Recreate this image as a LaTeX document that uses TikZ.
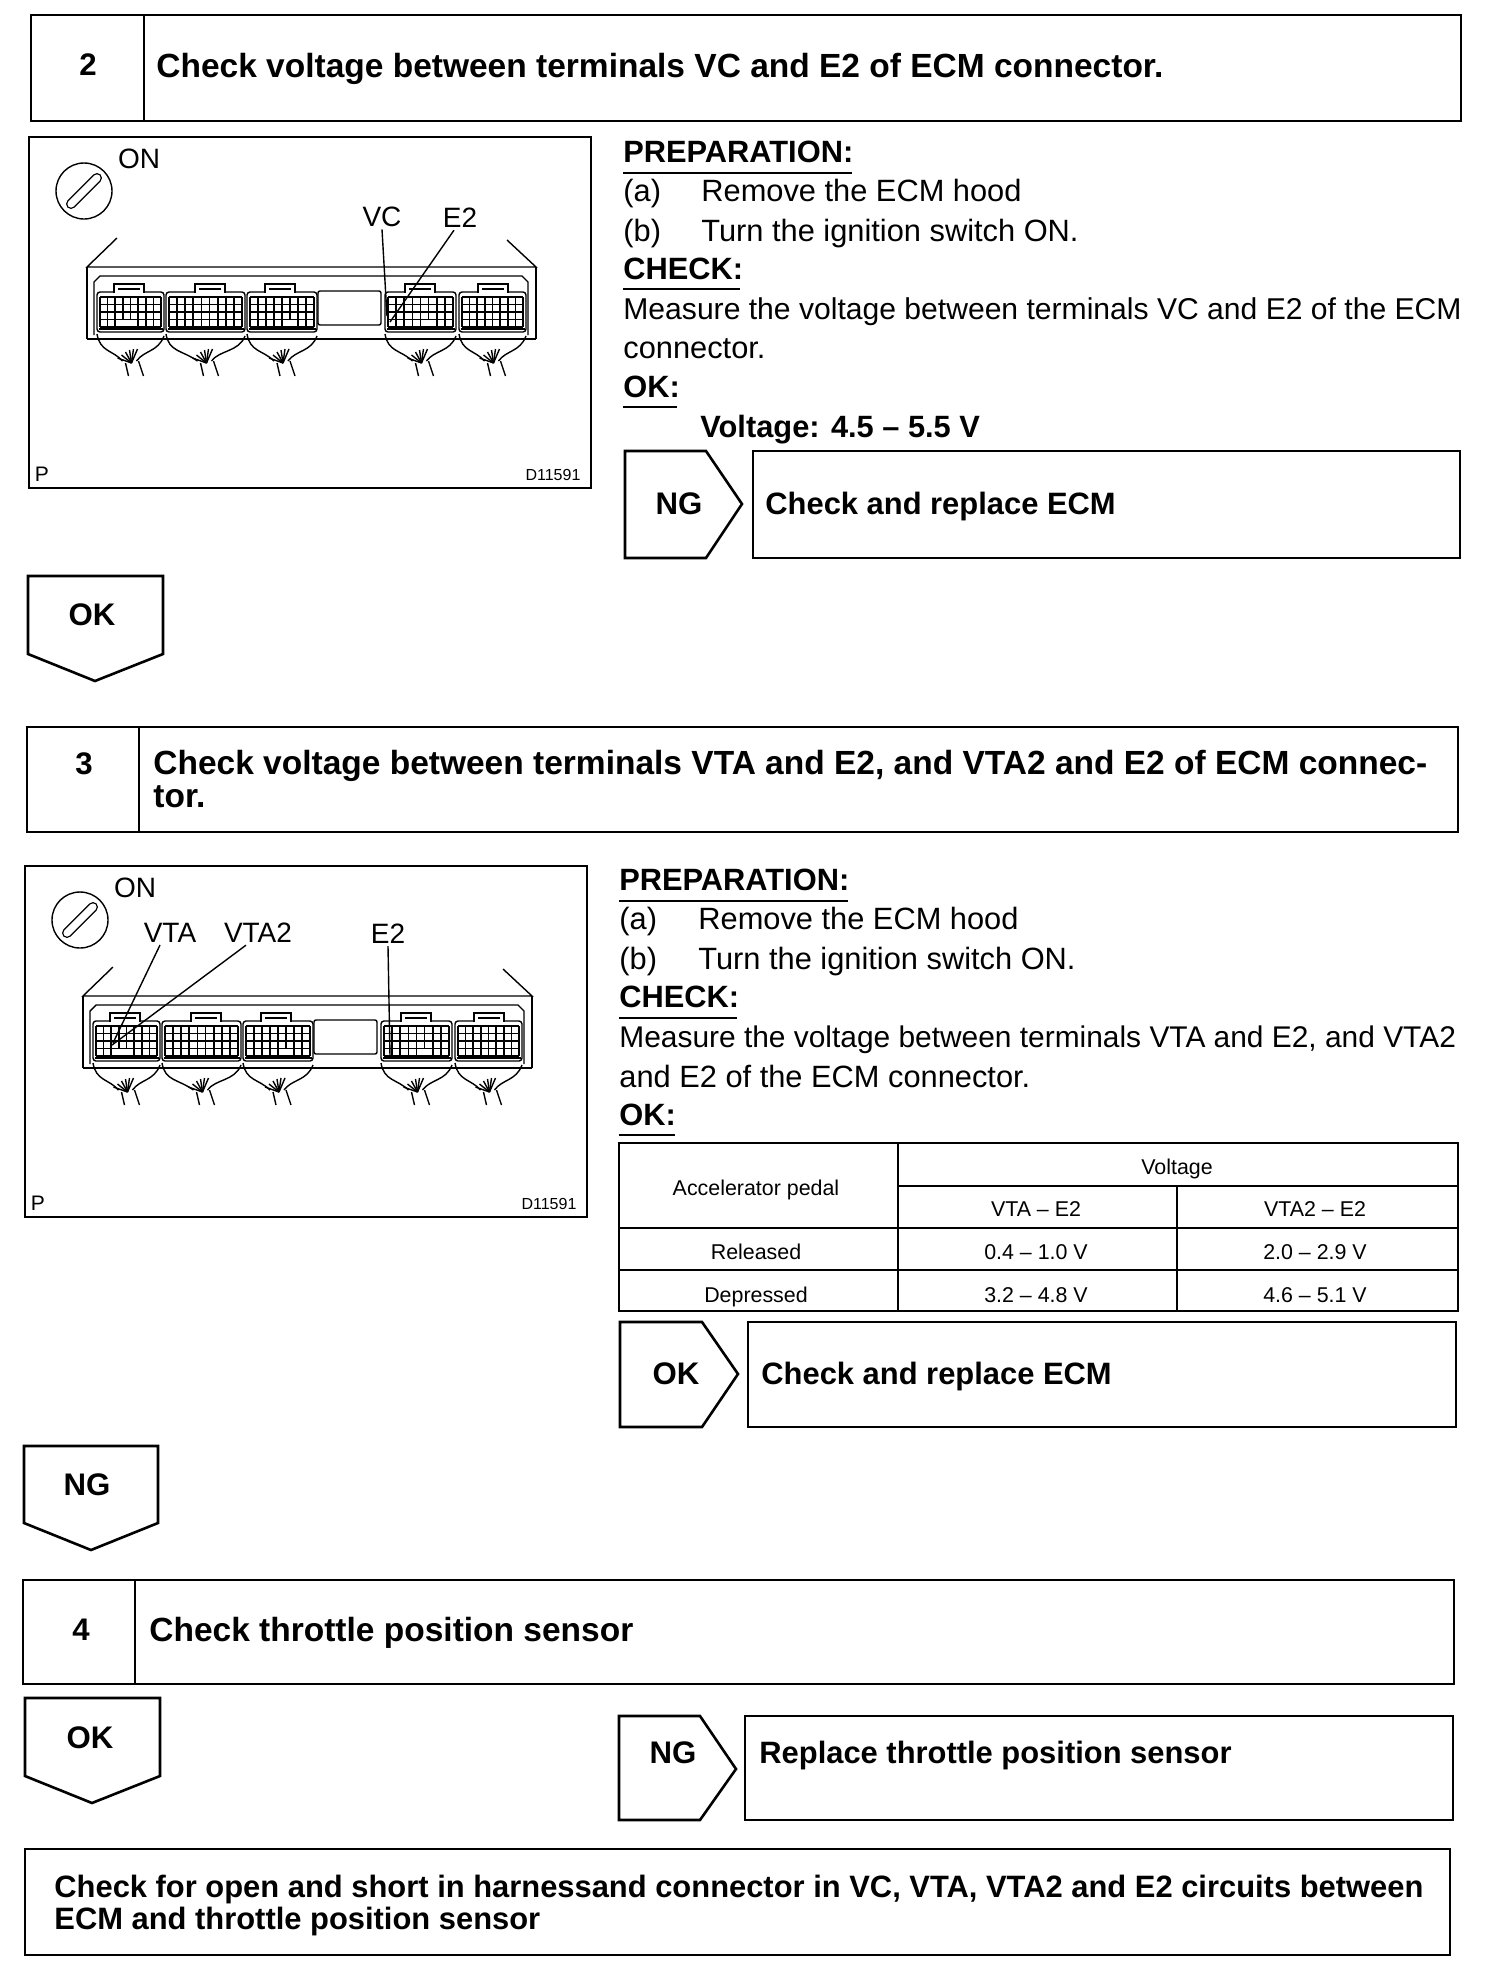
\documentclass[tikz,border=0pt]{standalone}
\usepackage{fontspec}
\setmainfont{Liberation Sans}
\def\pxsz{0.5pt}
\tikzset{
  boxline/.style={draw=black, line width=1.3pt, line join=miter},
  thinline/.style={draw=black, line width=0.7pt},
  gridline/.style={draw=black, line width=0.85pt},
  tableline/.style={draw=black, line width=1.1pt},
  headtext/.style={anchor=base west, inner sep=0pt, font=\fontsize{16.75}{18}\bfseries\selectfont},
  boxtext/.style={anchor=base west, inner sep=0pt, font=\fontsize{15.45}{17}\bfseries\selectfont},
  headnum/.style={anchor=base, inner sep=0pt, font=\fontsize{15.6}{17}\bfseries\selectfont},
  bodytext/.style={anchor=base west, inner sep=0pt, font=\fontsize{15.4}{17}\selectfont},
  bodytight/.style={anchor=base west, inner sep=0pt, font=\fontsize{15.05}{17}\selectfont},
  bodybold/.style={anchor=base west, inner sep=0pt, font=\fontsize{15.4}{17}\bfseries\selectfont},
  tabletext/.style={inner sep=0pt, font=\fontsize{10.7}{12}\selectfont},
  figlabel/.style={inner sep=1pt, font=\fontsize{14}{16}\selectfont},
  figsmall/.style={inner sep=0pt, font=\fontsize{8}{10}\selectfont},
}
% one plug of the ECM: left, right, left of tab, columns, blank cells
\newcommand{\ecmplug}[5]{
  \pgfmathsetmacro\cellw{(#2-#1-6)/#4}
  \pgfmathsetmacro\plugm{(#1+#2)/2}
  \draw[thinline, rounded corners=1.5pt] (#1,332) rectangle (#2,292);
  \draw[thinline, fill=white] (#3,293) -- (#3,284) -- ({#3+30},284) -- ({#3+30},293);
  \draw[gridline] ({#3+4},289) -- ({#3+26},289);
  \draw[gridline] ({#1+1.5},329) -- ({#2-1.5},329);
  \foreach \c in {0,...,#4} \draw[gridline] ({#1+3+\c*\cellw},297) -- ({#1+3+\c*\cellw},327);
  \foreach \r in {0,...,4} \draw[gridline] ({#1+3},{297+\r*7.5}) -- ({#2-3},{297+\r*7.5});
  \foreach \c/\r/\n in {#5} \fill[white] ({#1+3+\c*\cellw+0.9},{297+\r*7.5+0.9}) rectangle ({#1+3+(\c+\n)*\cellw-0.9},{297+(\r+1)*7.5-0.9});
  % wires
  \draw[thinline] (#1,334) .. controls ({#1+3},352) and ({#1+16},350) .. ({\plugm-8},361);
  \draw[thinline] (#2,336) .. controls ({#2-6},352) and ({\plugm+14},350) .. ({\plugm+6},361);
  \draw[thinline] ({\plugm-5},363) -- ({\plugm-2},376);
  \draw[thinline] ({\plugm+8},361) -- ({\plugm+13},376);
  \foreach \a/\b in {-13/358,-9/355,-5/352,-1/350,3/349,7/349}
    \draw[thinline] ({\plugm+1},363) -- ({\plugm+\a},\b);
}
% figure with key and ECM connectors
\newcommand{\ecmpanel}[3]{
\begin{scope}[shift={(#1,#2)}]
  \draw[boxline] (29,137) rectangle (591,488);
  \node[figlabel] (#3on) at (139,159) {ON};
  \node[figsmall, font=\fontsize{10.5}{11}\selectfont] (#3p) at (42,474) {P};
  \node[figsmall] (#3code) at (553,475) {D11591};
  % key
  \draw[thinline] (84,191) circle (28);
  \draw[black, line width=5pt, line cap=round] (71,204) -- (97,178);
  \draw[white, line width=3.6pt, line cap=round] (71,204) -- (97,178);
  % ECM body
  \draw[thinline] (117,238) -- (87,267) -- (536,267) -- (507,240);
  \draw[thinline] (87,267) -- (87,339);
  \draw[thinline] (536,267) -- (536,339);
  \draw[draw=black, line width=1.2pt] (87,339) -- (536,339);
  \draw[thinline] (94,335) -- (94,282) -- (100,276) -- (522,276) -- (528,282) -- (528,335);
  \draw[thinline, rounded corners=1pt] (318,291) rectangle (381,325);
  \ecmplug{97}{164}{114}{8}{2/3/3}
  \ecmplug{166}{245}{195}{9}{2/2/1,2/3/1,5/2/1,5/3/1}
  \ecmplug{247}{317}{265}{8}{2/3/1,4/3/2}
  \ecmplug{385}{456}{405}{8}{4/3/2}
  \ecmplug{459}{526}{478}{8}{2/2/1,2/3/1}
\end{scope}
}
\begin{document}
\begin{tikzpicture}
\begin{scope}[x=\pxsz, y=-\pxsz, line cap=butt]
  \useasboundingbox (0,0) rectangle (1504,1976);
  \fill[white] (0,0) rectangle (1504,1976);

  % Step 2
  \draw[boxline] (31,15) rectangle (1461,121);
  \draw[boxline] (144,15) -- (144,121);
  \node[headnum] (numtwo) at (88,75) {2};
  \node[headtext] (headtwo) at (156,77) {Check voltage between terminals VC and E2 of ECM connector.};
  \ecmpanel{0}{0}{a}
  \node[figlabel] (labelvc) at (382,217) {VC};
  \node[figlabel] (labeleb) at (460,218) {E2};
  \coordinate (pinvc) at (387,316);
  \coordinate (pineb) at (390,322);
  \draw[thinline] (labelvc.south) -- (pinvc);
  \draw[thinline] ([xshift=-3pt]labeleb.south) -- (pineb);
  \node[bodybold] (preptwo) at (623,162) {PREPARATION:};
  \draw[thinline] (623,173) -- (852,173);
  \node[bodytext] (atwo) at (623,201) {(a)};
  \node[bodytext] (atwotext) at (701,201) {Remove the ECM hood};
  \node[bodytext] (btwo) at (623,241) {(b)};
  \node[bodytext] (btwotext) at (701,241) {Turn the ignition switch ON.};
  \node[bodybold] (checktwo) at (623,279) {CHECK:};
  \draw[thinline] (623,289) -- (740,289);
  \node[bodytight] (meastwo) at (623,319) {Measure the voltage between terminals VC and E2 of the ECM};
  \node[bodytext] (meastwob) at (623,358) {connector.};
  \node[bodybold] (oktwo) at (623,397) {OK:};
  \draw[thinline] (623,407) -- (677,407);
  \node[bodybold] (volttwo) at (700,437) {Voltage: 4.5 -- 5.5 V};
  \draw[boxline] (625,451) -- (706,451) -- (742,504) -- (706,558) -- (625,558) -- cycle;
  \node[headnum] (ngtwo) at (679,514) {NG};
  \draw[boxline] (753,451) rectangle (1460,558);
  \node[boxtext] (replacetwo) at (765,514) {Check and replace ECM};
  \draw[boxline] (28,576) -- (163,576) -- (163,654) -- (95,681) -- (28,654) -- cycle;
  \node[headnum] (oktwodown) at (92,625) {OK};

  % Step 3
  \draw[boxline] (27,727) rectangle (1458,832);
  \draw[boxline] (139,727) -- (139,832);
  \node[headnum] (numthree) at (84,774) {3};
  \node[headtext] (headthree) at (153,774) {Check voltage between terminals VTA and E2, and VTA2 and E2 of ECM connec-};
  \node[headtext] (headthreeb) at (153,807) {tor.};
  \ecmpanel{-4}{729}{b}
  \node[figlabel] (labelvta) at (170,933) {VTA};
  \node[figlabel] (labelvtb) at (258,933) {VTA2};
  \node[figlabel] (labelec) at (388,934) {E2};
  \coordinate (pinvta) at (113,1043);
  \coordinate (pinvtb) at (112,1045);
  \coordinate (pinec) at (390,1056);
  \draw[thinline] ([xshift=-5pt]labelvta.south) -- (pinvta);
  \draw[thinline] ([xshift=-6pt]labelvtb.south) -- (pinvtb);
  \draw[thinline] (labelec.south) -- (pinec);
  \node[bodybold] (prepthree) at (619,890) {PREPARATION:};
  \draw[thinline] (619,901) -- (848,901);
  \node[bodytext] (athree) at (619,929) {(a)};
  \node[bodytext] (athreetext) at (698,929) {Remove the ECM hood};
  \node[bodytext] (bthree) at (619,969) {(b)};
  \node[bodytext] (bthreetext) at (698,969) {Turn the ignition switch ON.};
  \node[bodybold] (checkthree) at (619,1007) {CHECK:};
  \draw[thinline] (619,1018) -- (737,1018);
  \node[bodytight, font=\fontsize{14.95}{17}\selectfont] (measthree) at (619,1047) {Measure the voltage between terminals VTA and E2, and VTA2};
  \node[bodytext] (measthreeb) at (619,1087) {and E2 of the ECM connector.};
  \node[bodybold] (okthree) at (619,1125) {OK:};
  \draw[thinline] (619,1135) -- (675,1135);
  % Voltage table
  \draw[tableline] (619,1143) rectangle (1458,1311);
  \draw[tableline] (898,1143) -- (898,1311);
  \draw[tableline] (1177,1186) -- (1177,1311);
  \draw[tableline] (898,1186) -- (1458,1186);
  \draw[tableline] (619,1228) -- (1458,1228);
  \draw[tableline] (619,1270) -- (1458,1270);
  \node[tabletext] (tabpedal) at (756,1190) {Accelerator pedal};
  \node[tabletext] (tabvolt) at (1177,1169) {Voltage};
  \node[tabletext] (tabvta) at (1036,1209) {VTA -- E2};
  \node[tabletext] (tabvtb) at (1315,1209) {VTA2 -- E2};
  \node[tabletext] (tabrel) at (756,1252) {Released};
  \node[tabletext] (tabrela) at (1036,1252) {0.4 -- 1.0 V};
  \node[tabletext] (tabrelb) at (1315,1252) {2.0 -- 2.9 V};
  \node[tabletext] (tabdep) at (756,1297) {Depressed};
  \node[tabletext] (tabdepa) at (1036,1295) {3.2 -- 4.8 V};
  \node[tabletext] (tabdepb) at (1315,1295) {4.6 -- 5.1 V};
  \draw[boxline] (620,1322) -- (702,1322) -- (738,1374) -- (702,1427) -- (620,1427) -- cycle;
  \node[headnum] (okthreeside) at (676,1384) {OK};
  \draw[boxline] (748,1322) rectangle (1456,1427);
  \node[boxtext] (replacethree) at (761,1384) {Check and replace ECM};
  \draw[boxline] (24,1446) -- (158,1446) -- (158,1523) -- (91,1550) -- (24,1523) -- cycle;
  \node[headnum] (ngthreedown) at (87,1495) {NG};

  % Step 4
  \draw[boxline] (23,1580) rectangle (1454,1684);
  \draw[boxline] (135,1580) -- (135,1684);
  \node[headnum] (numfour) at (81,1640) {4};
  \node[headtext] (headfour) at (149,1641) {Check throttle position sensor};
  \draw[boxline] (25,1698) -- (160,1698) -- (160,1776) -- (92,1803) -- (25,1776) -- cycle;
  \node[headnum] (okfourdown) at (90,1748) {OK};
  \draw[boxline] (619,1716) -- (700,1716) -- (736,1769) -- (700,1820) -- (619,1820) -- cycle;
  \node[headnum] (ngfour) at (673,1763) {NG};
  \draw[boxline] (745,1716) rectangle (1453,1820);
  \node[boxtext] (replacefour) at (759,1763) {Replace throttle position sensor};

  % Last box
  \draw[boxline] (25,1849) rectangle (1450,1955);
  \node[boxtext] (lastbox) at (54,1897) {Check for open and short in harnessand connector in VC, VTA, VTA2 and E2 circuits between};
  \node[boxtext] (lastboxb) at (54,1929) {ECM and throttle position sensor};
\end{scope}
\end{tikzpicture}
\end{document}
